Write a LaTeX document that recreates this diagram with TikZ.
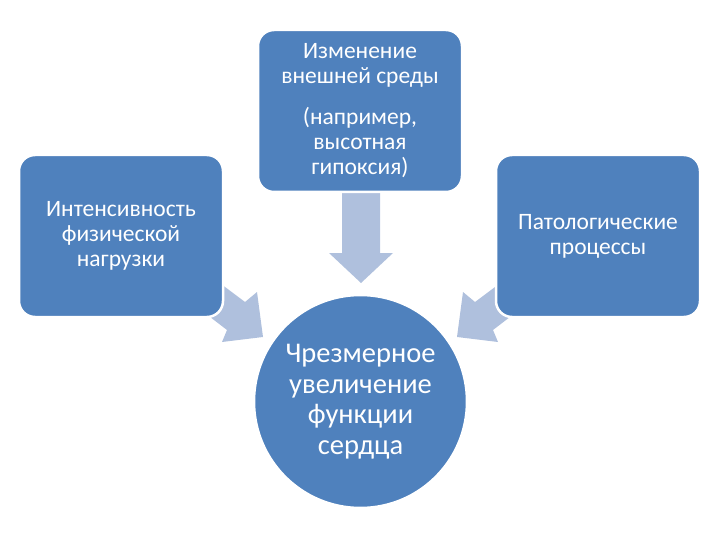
\documentclass[tikz,border=0pt]{standalone}
\usepackage{fontspec}
\setmainfont{Carlito}
\definecolor{boxblue}{HTML}{4F81BD}
\definecolor{arrowblue}{HTML}{AFC0DD}
\begin{document}
\begin{tikzpicture}[x=1pt,y=-1pt,
  blk/.style={draw=white,line width=2.5pt,fill=boxblue,rounded corners=16pt,
    minimum width=204pt,minimum height=162pt,text=white,align=center,
    font=\fontsize{23.5}{25}\selectfont},
  hub/.style={draw=white,line width=2.5pt,fill=boxblue,circle,minimum size=213pt,
    inner sep=0pt,text=white,align=center,font=\fontsize{28.5}{30.5}\selectfont},
  barrow/.style={fill=arrowblue,draw=none}]
\useasboundingbox (0,0) rectangle (720,540);
% arrows (drawn first, boxes overlap their tails)
\fill[barrow] (342,170) -- (380,170) -- (380,253) -- (393,253) -- (361,283)
  -- (329,253) -- (342,253) -- cycle;
\fill[barrow] (213,278) -- (245,302) -- (257,292) -- (263,337) -- (222,342)
  -- (227,330) -- (197,307) -- cycle;
\fill[barrow] (507,278) -- (475,302) -- (463,292) -- (457,337) -- (498,342)
  -- (493,330) -- (523,307) -- cycle;
% boxes
\node[blk] (top) at (360,111) {Изменение\\внешней среды\\[16pt](например,\\высотная\\гипоксия)};
\node[blk] (left) at (121,236) {Интенсивность\\физической\\нагрузки};
\node[blk] (right) at (598,236) {Патологические\\процессы};
\node[hub] (heart) at (360.5,401.5) {Чрезмерное\\увеличение\\функции\\сердца};
\end{tikzpicture}
\end{document}
